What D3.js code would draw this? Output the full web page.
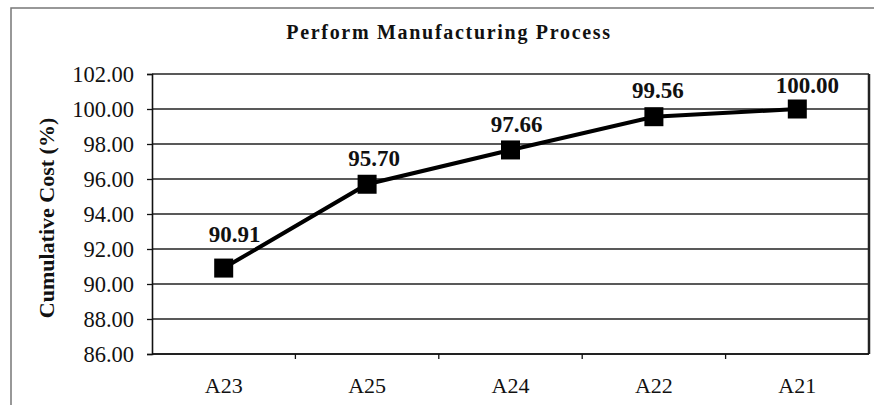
<!DOCTYPE html>
<html>
<head>
<meta charset="utf-8">
<script src="https://cdn.jsdelivr.net/npm/d3@7/dist/d3.min.js"></script>
<style>
  html, body { margin: 0; padding: 0; background: #fff; }
  svg { display: block; }
  text { font-family: "Liberation Serif", "Times New Roman", serif; fill: #111; }
</style>
</head>
<body>
<svg id="chart" width="874" height="405"></svg>
<script>
// Cumulative cost per activity, in order along the x axis
const categories = ["A23", "A25", "A24", "A22", "A21"];
const cumulativeCost = [90.91, 95.70, 97.66, 99.56, 100.00];
const yTicks = [86, 88, 90, 92, 94, 96, 98, 100, 102];
const chartTitle = "Perform Manufacturing Process";
const yTitle = "Cumulative Cost (%)";

const svg = d3.select("#chart");
const W = 874, H = 405;
const m = { left: 152, right: 5, top: 74, bottom: 51 };
const iw = W - m.left - m.right, ih = H - m.top - m.bottom;

// outer chart frame (partly visible)
svg.append("path")
  .attr("d", `M11,${H} L11,8 L${W},8`)
  .attr("fill", "none").attr("stroke", "#777").attr("stroke-width", 1.5);

const g = svg.append("g").attr("transform", `translate(${m.left},${m.top})`);

const x = d3.scaleBand().domain(categories).range([0, iw]);
const y = d3.scaleLinear().domain([86, 102]).range([ih, 0]);

// horizontal gridlines
g.selectAll("line.grid").data(yTicks).join("line")
  .attr("class", "grid")
  .attr("x1", 0).attr("x2", iw)
  .attr("y1", d => y(d)).attr("y2", d => y(d))
  .attr("stroke", "#222").attr("stroke-width", 1.4);

// right border of plot area
g.append("line").attr("x1", iw).attr("x2", iw).attr("y1", 0).attr("y2", ih)
  .attr("stroke", "#222").attr("stroke-width", 2.5);

// y axis
const yAxis = g.append("g")
  .call(d3.axisLeft(y).tickValues(yTicks).tickFormat(d3.format(".2f")).tickSize(5).tickPadding(13));
yAxis.select(".domain").attr("stroke", "#111").attr("stroke-width", 1.6);
yAxis.selectAll(".tick line").attr("stroke", "#111").attr("stroke-width", 1.3);
yAxis.selectAll(".tick text").attr("font-size", 22.5).attr("fill", "#222")
  .attr("font-family", "'Liberation Serif', serif");

// x axis with ticks between categories
const xAxis = g.append("g").attr("transform", `translate(0,${ih})`);
xAxis.append("line").attr("x1", 0).attr("x2", iw).attr("stroke", "#111").attr("stroke-width", 1.6);
const boundaries = categories.slice(1).map(c => x(c));
xAxis.selectAll("line.tk").data(boundaries).join("line").attr("class", "tk")
  .attr("x1", d => d).attr("x2", d => d).attr("y1", 0).attr("y2", 5)
  .attr("stroke", "#111").attr("stroke-width", 1.3);
xAxis.selectAll("text").data(categories).join("text")
  .attr("x", d => x(d) + x.bandwidth() / 2).attr("y", 39)
  .attr("text-anchor", "middle").attr("font-size", 22).attr("fill", "#222")
  .text(d => d);

const pts = categories.map((c, i) => ({ c, v: cumulativeCost[i], i }));
const cx = d => x(d.c) + x.bandwidth() / 2;

// series line
g.append("path").datum(pts)
  .attr("d", d3.line().x(cx).y(d => y(d.v)))
  .attr("fill", "none").attr("stroke", "#000").attr("stroke-width", 4);

// square markers
const s = 19;
g.selectAll("rect.mk").data(pts).join("rect").attr("class", "mk")
  .attr("x", d => cx(d) - s / 2).attr("y", d => y(d.v) - s / 2)
  .attr("width", s).attr("height", s).attr("fill", "#000");

// value labels, each nudged a little from its marker
const labelDx = [11, 7, 6, 4, 10];
const labelDy = [-26, -18, -18, -19, -16];
g.selectAll("text.lbl").data(pts).join("text").attr("class", "lbl")
  .attr("x", d => cx(d) + labelDx[d.i]).attr("y", d => y(d.v) + labelDy[d.i])
  .attr("text-anchor", "middle").attr("font-size", 23).attr("font-weight", "bold")
  .text(d => d.v.toFixed(2));

// chart title
svg.append("text").attr("x", 449).attr("y", 39)
  .attr("text-anchor", "middle").attr("font-size", 20).attr("font-weight", "bold")
  .attr("letter-spacing", 1.7)
  .text(chartTitle);

// y axis title
svg.append("text")
  .attr("transform", `translate(54,${m.top + ih / 2 + 4}) rotate(-90)`)
  .attr("text-anchor", "middle").attr("font-size", 22).attr("font-weight", "bold")
  .text(yTitle);
</script>
</body>
</html>
